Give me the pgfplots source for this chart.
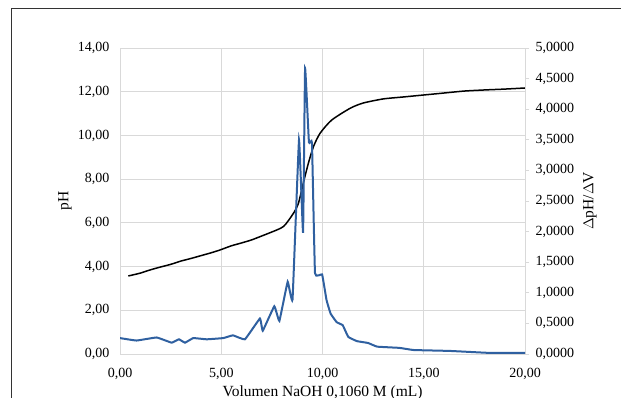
\documentclass[border=0pt]{standalone}
\usepackage{pgfplots}
\pgfplotsset{compat=1.18}
\usepackage{fontspec}
\setmainfont{Liberation Serif}
\definecolor{blueline}{RGB}{47,96,160}
\definecolor{gridc}{RGB}{217,217,217}
\begin{document}
\begin{tikzpicture}
\useasboundingbox (0pt,0pt) rectangle (621pt,398pt);
\draw[black!80, line width=0.8pt] (11pt,-30pt) -- (11pt,390pt) -- (660pt,390pt);
\begin{axis}[
  at={(120pt,44pt)}, anchor=origin,
  scale only axis, width=405pt, height=306pt,
  xmin=0, xmax=20, ymin=0, ymax=14,
  xtick={0,5,10,15,20}, ytick={0,2,...,14},
  axis y line*=left, axis x line*=bottom,
  axis line style={gridc}, tick style={draw=none},
  grid=major, major grid style={gridc, line width=0.8pt},
  /pgf/number format/.cd, use comma, fixed, fixed zerofill, precision=2, assume math mode=true,
  /pgfplots/.cd,
  ticklabel style={font=\fontsize{14}{16}\selectfont},
  label style={font=\fontsize{15.5}{18}\selectfont},
  xticklabel style={yshift=-11pt},
  yticklabel style={xshift=-7pt},
  xlabel={Volumen NaOH 0,1060 M (mL)},
  ylabel={pH},
  xlabel style={at={(axis description cs:0.5,0)}, anchor=base, yshift=-43pt},
  ylabel style={at={(axis description cs:-0.1358,0.5)}, anchor=center},
]
\addplot[black, line width=1.5pt, smooth, tension=0.4] coordinates {
(0.41,3.57) (1.0,3.70) (1.5,3.85) (2.0,3.98) (2.5,4.10) (3.0,4.25) (3.5,4.37) (4.0,4.50)
(4.5,4.63) (4.94,4.76) (5.5,4.95) (6.0,5.08) (6.5,5.22) (7.0,5.40) (7.41,5.55) (8.07,5.83)
(8.56,6.43) (8.81,6.89) (9.05,7.81) (9.3,8.72) (9.55,9.48) (9.88,10.1) (10.45,10.7)
(11.36,11.24) (12,11.48) (13,11.67) (14,11.76) (15,11.85) (16,11.94) (17,12.03) (18,12.08)
(19,12.12) (20,12.17)
};
\end{axis}
\begin{axis}[
  at={(120pt,44pt)}, anchor=origin,
  scale only axis, width=405pt, height=306pt,
  xmin=0, xmax=20, ymin=0, ymax=5,
  ytick={0,0.5,...,5},
  axis y line*=right, axis x line=none,
  axis line style={gridc}, tick style={gridc, line width=0.8pt},
  tick align=outside, major tick length=4pt,
  /pgf/number format/.cd, use comma, fixed, fixed zerofill, precision=4, assume math mode=true,
  /pgfplots/.cd,
  ticklabel style={font=\fontsize{14}{16}\selectfont},
  label style={font=\fontsize{15.5}{18}\selectfont},
  yticklabel style={xshift=3pt},
  ylabel={$\Delta$pH/$\Delta$V},
  ylabel style={at={(axis description cs:1.1605,0.5)}, anchor=center},
]
\addplot[blueline, line width=2pt, smooth, tension=0.15] coordinates {
(0,0.26) (0.82,0.22) (1.81,0.27) (2.55,0.185) (2.91,0.24) (3.21,0.185) (3.62,0.26) (4.28,0.24)
(5.1,0.26) (5.58,0.305) (6.17,0.24) (6.91,0.58) (7.05,0.38) (7.62,0.78) (7.87,0.54)
(8.28,1.18) (8.52,0.89) (8.84,3.5) (9.04,1.98) (9.14,4.67) (9.33,3.46) (9.48,3.45)
(9.63,1.32) (9.98,1.30) (10.2,0.88) (10.4,0.66) (10.7,0.52) (11.0,0.47) (11.27,0.28)
(11.7,0.21) (12.25,0.18) (12.7,0.12) (13.8,0.10) (14.5,0.065) (16.3,0.05) (18.1,0.02)
(19.4,0.02) (20,0.02)
};
\end{axis}
\end{tikzpicture}
\end{document}
